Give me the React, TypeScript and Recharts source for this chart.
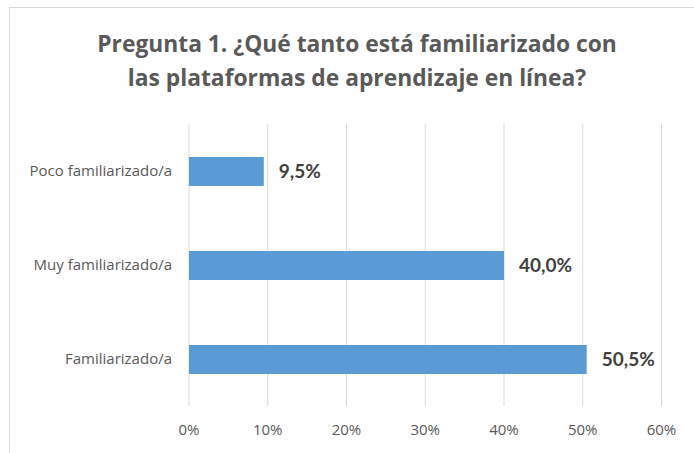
import React from "react";
import {
  BarChart,
  Bar,
  XAxis,
  YAxis,
  CartesianGrid,
  LabelList,
} from "recharts";

const categories = ["Poco familiarizado/a", "Muy familiarizado/a", "Familiarizado/a"];
const percentages = [9.5, 40.0, 50.5];
const xTicks = [0, 10, 20, 30, 40, 50, 60];

const data = categories.map((name, i) => ({ name, value: percentages[i] }));

const FONT = "'Open Sans', sans-serif";
const LABEL_FONT = "Lato, 'Open Sans', sans-serif";

export default function App() {
  return (
    <div style={{ position: "absolute", left: 0, top: 0, width: 694, height: 453, overflow: "hidden", background: "#fff" }}>
      {/* chart frame, right and bottom edges fall outside the picture */}
      <div
        style={{
          position: "absolute",
          left: 9,
          top: 7,
          width: 696,
          height: 470,
          border: "1px solid #d9d9d9",
          boxSizing: "border-box",
        }}
      />
      <div
        style={{
          position: "absolute",
          left: 9,
          top: 27,
          width: 696,
          textAlign: "center",
          fontFamily: FONT,
          fontWeight: 700,
          fontSize: 22.8,
          lineHeight: "33.5px",
          color: "#595959",
        }}
      >
        Pregunta 1. ¿Qué tanto está familiarizado con
        <br />
        las plataformas de aprendizaje en línea?
      </div>
      <div style={{ position: "absolute", left: 0, top: 0 }}>
        <BarChart
          width={694}
          height={453}
          data={data}
          layout="vertical"
          margin={{ top: 124, right: 32.5, bottom: 17, left: 0 }}
        >
          <CartesianGrid horizontal={false} stroke="#d9d9d9" strokeWidth={1} />
          <XAxis
            type="number"
            domain={[0, 60]}
            ticks={xTicks}
            interval={0}
            axisLine={false}
            tickLine={false}
            height={30}
            tickMargin={12}
            tickFormatter={(v) => `${v}%`}
            tick={{ fill: "#595959", fontSize: 15, fontFamily: FONT }}
          />
          <YAxis
            type="category"
            dataKey="name"
            width={189}
            axisLine={false}
            tickLine={false}
            tickSize={0}
            tickMargin={17}
            tick={{ fill: "#595959", fontSize: 15, fontFamily: FONT }}
          />
          <Bar dataKey="value" fill="#5b9bd5" barSize={29} isAnimationActive={false}>
            <LabelList
              dataKey="value"
              position="right"
              offset={15}
              formatter={(v: any) => `${Number(v).toFixed(1).replace(".", ",")}%`}
              style={{ fill: "#404040", fontSize: 19, fontWeight: 700, fontFamily: LABEL_FONT }}
            />
          </Bar>
        </BarChart>
      </div>
    </div>
  );
}
